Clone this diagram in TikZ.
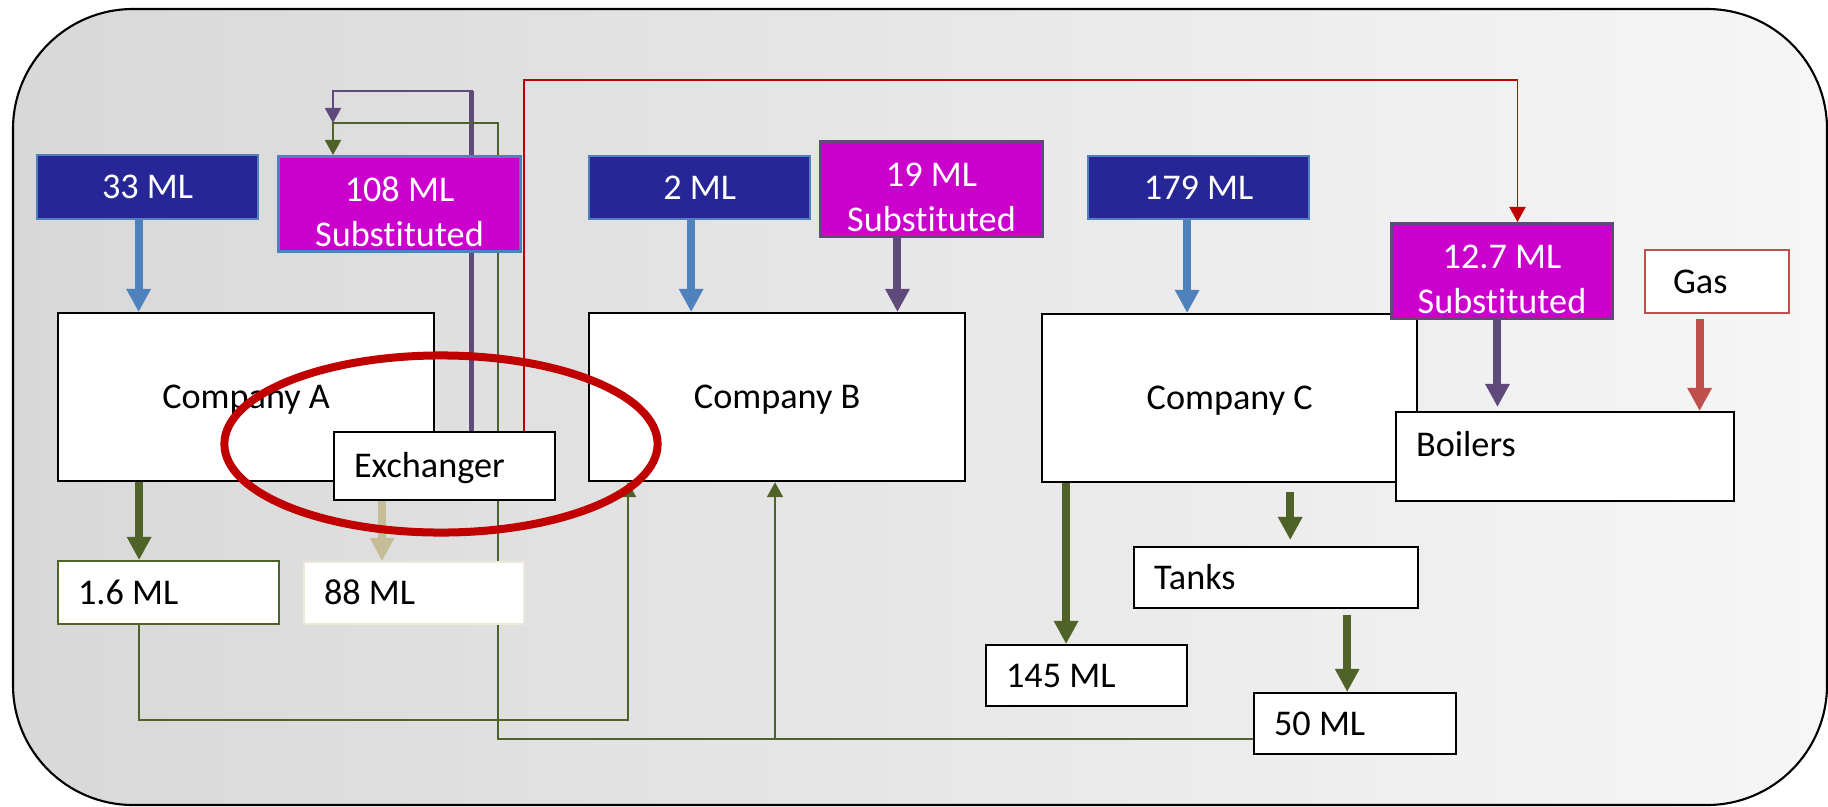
\documentclass[tikz,border=0pt]{standalone}
\usepackage{fontspec}
\setmainfont{Carlito}[Ligatures=NoCommon]
\usetikzlibrary{arrows.meta,shapes.geometric}

\definecolor{navyq}{RGB}{38,38,150}
\definecolor{magq}{RGB}{204,0,204}
\definecolor{bluea}{RGB}{79,129,189}
\definecolor{purp}{RGB}{96,74,123}
\definecolor{grn}{RGB}{79,98,40}
\definecolor{beig}{RGB}{196,189,151}
\definecolor{beigl}{RGB}{236,233,218}
\definecolor{redd}{RGB}{192,0,0}
\definecolor{gasr}{RGB}{192,80,77}
\definecolor{bgl}{RGB}{216,216,216}
\definecolor{bgr}{RGB}{246,246,246}

\pgfdeclarelayer{bottom}
\pgfdeclarelayer{back}
\pgfsetlayers{bottom,back,main}

\newcommand\subtext[1]{\rule{0pt}{0.40cm}#1\\Substituted}

\tikzset{
	plainbox/.style={draw=black, fill=white, line width=0.6pt, anchor=north west, inner sep=0pt},
	company/.style={plainbox, minimum width=3.76cm, minimum height=1.68cm, text height=0.23cm, text depth=0pt},
	tagbox/.style={plainbox, align=flush left, inner xsep=0.2cm, inner ysep=0pt, text height=0.23cm, text depth=0pt},
	water/.style={anchor=north west, draw=bluea, fill=navyq, text=white, line width=0.6pt, inner sep=0pt,
		minimum width=2.21cm, text height=0.23cm, text depth=0pt},
	subst/.style={anchor=north west, draw=purp, fill=magq, text=white, line width=0.8pt, inner sep=0pt,
		align=center, minimum height=0.95cm},
	fat/.style={line width=0.08cm, -{Triangle[width=0.23cm,length=0.23cm]}},
	pipe/.style={line width=0.55pt, -{Triangle[width=0.16cm,length=0.15cm]}},
}

\begin{document}
\begin{tikzpicture}[x=0.01cm, y=-0.01cm, font=\fontsize{10.3}{12.9}\selectfont]
	\useasboundingbox (0,0) rectangle (1828,806);
	
	% inputs
	\node[water, minimum height=0.64cm] (q33) at (36,154) {33 ML};
	\node[subst, draw=bluea, minimum width=2.42cm] (q108) at (277,155) {\subtext{108 ML}};
	\node[water, minimum height=0.63cm] (q2) at (588,155) {2 ML};
	\node[subst, minimum width=2.22cm] (q19) at (819,140) {\subtext{19 ML}};
	\node[water, minimum height=0.63cm] (q179) at (1087,155) {179 ML};
	
	% sites
	\node[company] (cA) at (57,312) {Company A};
	\node[company] (cB) at (588,312) {Company B};
	\node[company, minimum width=3.75cm] (cC) at (1041,313) {Company C};
	\node[subst, minimum width=2.21cm] (q127) at (1390,222) {\subtext{12.7 ML}};
	\node[tagbox, draw=gasr, inner xsep=0.28cm, text width=0.88cm, minimum height=0.63cm] (gas) at (1644,249) {Gas};
	\node[tagbox, text width=2.98cm, minimum height=0.89cm, text height=0.25cm, text depth=0.25cm] (boil) at (1395,411) {Boilers};
	\node[tagbox, text width=1.81cm, minimum height=0.68cm] (ex) at (333,431) {Exchanger};
	
	% outputs
	\node[tagbox, draw=grn, text width=1.81cm, minimum height=0.63cm] (m16) at (57,560) {1.6 ML};
	\node[tagbox, draw=beigl, text width=1.80cm, minimum height=0.62cm] (m88) at (303,561) {88 ML};
	\node[tagbox, text width=1.61cm, minimum height=0.61cm] (m145) at (985,644) {145 ML};
	\node[tagbox, text width=2.44cm, minimum height=0.61cm] (tanks) at (1133,546) {Tanks};
	\node[tagbox, text width=1.62cm, minimum height=0.61cm] (m50) at (1253,692) {50 ML};
	
	\coordinate (jn) at (333,123);
	\coordinate (jg) at (498,123);
	\coordinate (jb) at (775,739);
	
	\begin{pgfonlayer}{bottom}
		\draw[rounded corners=1.2cm, left color=bgl, right color=bgr, line width=0.6pt] (13,9) rectangle (1827,805);
	\end{pgfonlayer}
	
	% reuse lines, behind the boxes
	\begin{pgfonlayer}{back}
		\draw[pipe, redd] ([xshift=0.795cm]ex.north) -- ++(0,-351) -| ([xshift=0.155cm]q127.north);
		\draw[purp, line width=1.4pt] ([xshift=0.27cm]ex.north) -- ++(0,-340);
		\draw[pipe, purp] ([xshift=0.27cm]ex.north) -- ++(0,-340) -| (jn);
		\draw[pipe, grn] (m50.west |- jb) -| (jg) -| (q108.north -| jn);
		\draw[pipe, grn] (jb) -- (jb |- cB.south);
		\draw[pipe, grn] ([xshift=-0.295cm]m16.south) -- ++(0,95) -| ([xshift=-1.49cm]cB.south);
	\end{pgfonlayer}
	
	% flows
	\draw[fat, bluea] ([xshift=-0.09cm]q33.south) -- ([xshift=-0.09cm]q33.south |- cA.north);
	\draw[fat, bluea] ([xshift=-0.085cm]q2.south) -- ([xshift=-0.085cm]q2.south |- cB.north);
	\draw[fat, purp] ([xshift=-0.34cm]q19.south) -- ([xshift=-0.34cm]q19.south |- cB.north);
	\draw[fat, bluea] ([xshift=-0.115cm]q179.south) -- ([xshift=-0.115cm]q179.south |- cC.north);
	\draw[fat, purp, shorten >=0.04cm] ([xshift=-0.045cm]q127.south) -- ([xshift=-0.045cm]q127.south |- boil.north);
	\draw[fat, gasr, shorten <=0.05cm] ([xshift=-0.175cm]gas.south) -- ([xshift=-0.175cm]gas.south |- boil.north);
	\draw[fat, grn] ([xshift=-1.07cm]cA.south) -- ([xshift=-1.07cm]cA.south |- m16.north);
	\draw[fat, beig] ([xshift=-0.625cm]ex.south) -- ([xshift=-0.625cm]ex.south |- m88.north);
	\draw[fat, grn] ([xshift=-1.635cm]cC.south) -- ([xshift=-1.635cm]cC.south |- m145.north);
	\draw[fat, grn, shorten <=0.09cm, shorten >=0.06cm] ([xshift=0.605cm]cC.south) -- ([xshift=0.605cm]cC.south |- tanks.north);
	\draw[fat, grn, shorten <=0.06cm] ([xshift=0.71cm]tanks.south) -- ([xshift=0.71cm]tanks.south |- m50.north);
	
	\node[ellipse, draw=redd, line width=0.08cm, inner sep=0pt, minimum width=4.33cm, minimum height=1.77cm] (hl) at (441,444) {};
\end{tikzpicture}
\end{document}
